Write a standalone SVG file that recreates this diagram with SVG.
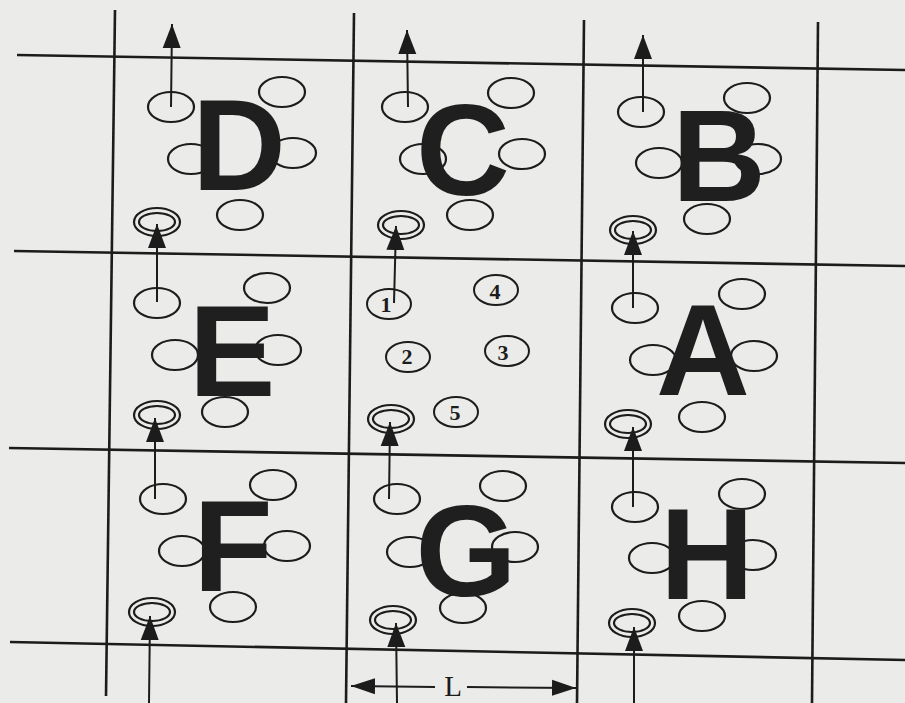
<svg xmlns="http://www.w3.org/2000/svg" width="905" height="703" viewBox="0 0 905 703">
<style>
.grid{stroke:#1c1c1c;stroke-width:2.6;fill:none;stroke-linecap:butt}
.e{fill:none;stroke:#1c1c1c;stroke-width:2.2}
.el{fill:none;stroke:#1c1c1c;stroke-width:2}
.big{font-family:"Liberation Sans",Arial,sans-serif;font-weight:bold;font-size:130px;fill:#1f1f1f;text-anchor:middle}
.num{font-family:"Liberation Serif","Times New Roman",serif;font-weight:bold;font-size:22px;fill:#1c1c1c;text-anchor:middle}
.lab{font-family:"Liberation Serif","Times New Roman",serif;font-size:29px;fill:#1c1c1c;text-anchor:middle}
.arr{stroke:#1c1c1c;stroke-width:2;fill:none;marker-end:url(#ah)}
.dim{stroke:#1c1c1c;stroke-width:2;fill:none}
</style>
<defs>
<marker id="ah" markerUnits="userSpaceOnUse" viewBox="0 -10 26 20" markerWidth="26" markerHeight="20" refX="24" refY="0" orient="auto">
<path d="M0,-9 L24,0 L0,9 Z" fill="#1c1c1c"/>
</marker>
<marker id="dh" markerUnits="userSpaceOnUse" viewBox="0 -10 26 20" markerWidth="26" markerHeight="20" refX="24" refY="0" orient="auto">
<path d="M0,-8 L24,0 L0,8 Z" fill="#1c1c1c"/>
</marker>
</defs>
<rect width="905" height="703" fill="#ebebe9"/>
<g id="grid">
<line class="grid" x1="17" y1="55" x2="905" y2="70"/>
<line class="grid" x1="14" y1="251" x2="905" y2="266"/>
<line class="grid" x1="9" y1="448" x2="905" y2="463"/>
<line class="grid" x1="10" y1="642" x2="905" y2="660"/>
<line class="grid" x1="115" y1="10" x2="106" y2="696"/>
<line class="grid" x1="354" y1="13" x2="346" y2="703"/>
<line class="grid" x1="584" y1="20" x2="577" y2="703"/>
<line class="grid" x1="818" y1="22" x2="812" y2="703"/>
</g>
<g id="cell-D">
<ellipse class="e" cx="171" cy="107" rx="23" ry="15"/>
<ellipse class="e" cx="282" cy="92" rx="23" ry="15"/>
<ellipse class="e" cx="191" cy="159" rx="23" ry="15"/>
<ellipse class="e" cx="293" cy="153" rx="23" ry="15"/>
<ellipse class="e" cx="240" cy="215" rx="23" ry="15"/>
<ellipse class="e" cx="157" cy="222" rx="23" ry="14"/>
<ellipse class="e" cx="157" cy="222" rx="18" ry="9"/>
<text class="big" x="239" y="190">D</text>
</g>
<g id="cell-C">
<ellipse class="e" cx="405" cy="107" rx="23" ry="15"/>
<ellipse class="e" cx="511" cy="93" rx="23" ry="15"/>
<ellipse class="e" cx="423" cy="159" rx="23" ry="15"/>
<ellipse class="e" cx="522" cy="154" rx="23" ry="15"/>
<ellipse class="e" cx="470" cy="215" rx="23" ry="15"/>
<ellipse class="e" cx="401" cy="225" rx="23" ry="14"/>
<ellipse class="e" cx="401" cy="225" rx="18" ry="9"/>
<text class="big" x="463" y="195">C</text>
</g>
<g id="cell-B">
<ellipse class="e" cx="641" cy="112" rx="23" ry="15"/>
<ellipse class="e" cx="747" cy="98" rx="23" ry="15"/>
<ellipse class="e" cx="659" cy="163" rx="23" ry="15"/>
<ellipse class="e" cx="758" cy="159" rx="23" ry="15"/>
<ellipse class="e" cx="707" cy="219" rx="23" ry="15"/>
<ellipse class="e" cx="633" cy="230" rx="23" ry="14"/>
<ellipse class="e" cx="633" cy="230" rx="18" ry="9"/>
<text class="big" x="719" y="201">B</text>
</g>
<g id="cell-E">
<ellipse class="e" cx="157" cy="303" rx="23" ry="15"/>
<ellipse class="e" cx="267" cy="288" rx="23" ry="15"/>
<ellipse class="e" cx="175" cy="355" rx="23" ry="15"/>
<ellipse class="e" cx="278" cy="350" rx="23" ry="15"/>
<ellipse class="e" cx="225" cy="412" rx="23" ry="15"/>
<ellipse class="e" cx="157" cy="415" rx="23" ry="14"/>
<ellipse class="e" cx="157" cy="415" rx="18" ry="9"/>
<text class="big" x="232" y="396">E</text>
</g>
<g id="cell-center">
<ellipse class="el" cx="389" cy="304" rx="22" ry="15"/>
<ellipse class="el" cx="496" cy="290" rx="22" ry="15"/>
<ellipse class="el" cx="408" cy="357" rx="22" ry="15"/>
<ellipse class="el" cx="507" cy="351" rx="22" ry="15"/>
<ellipse class="el" cx="456" cy="412" rx="22" ry="15"/>
<ellipse class="e" cx="391" cy="419" rx="23" ry="14"/>
<ellipse class="e" cx="391" cy="419" rx="18" ry="9"/>
<text class="num" x="386" y="312">1</text>
<text class="num" x="495" y="299">4</text>
<text class="num" x="407" y="364">2</text>
<text class="num" x="503" y="360">3</text>
<text class="num" x="455" y="420">5</text>
</g>
<g id="cell-A">
<ellipse class="e" cx="635" cy="308" rx="23" ry="15"/>
<ellipse class="e" cx="742" cy="294" rx="23" ry="15"/>
<ellipse class="e" cx="653" cy="360" rx="23" ry="15"/>
<ellipse class="e" cx="754" cy="356" rx="23" ry="15"/>
<ellipse class="e" cx="702" cy="417" rx="23" ry="15"/>
<ellipse class="e" cx="628" cy="424" rx="23" ry="14"/>
<ellipse class="e" cx="628" cy="424" rx="18" ry="9"/>
<text class="big" x="703" y="395">A</text>
</g>
<g id="cell-F">
<ellipse class="e" cx="163" cy="499" rx="23" ry="15"/>
<ellipse class="e" cx="273" cy="485" rx="23" ry="15"/>
<ellipse class="e" cx="182" cy="551" rx="23" ry="15"/>
<ellipse class="e" cx="287" cy="546" rx="23" ry="15"/>
<ellipse class="e" cx="233" cy="607" rx="23" ry="15"/>
<ellipse class="e" cx="152" cy="612" rx="23" ry="14"/>
<ellipse class="e" cx="152" cy="612" rx="18" ry="9"/>
<text class="big" x="233" y="591">F</text>
</g>
<g id="cell-G">
<ellipse class="e" cx="397" cy="499" rx="23" ry="15"/>
<ellipse class="e" cx="503" cy="486" rx="23" ry="15"/>
<ellipse class="e" cx="410" cy="552" rx="23" ry="15"/>
<ellipse class="e" cx="515" cy="547" rx="23" ry="15"/>
<ellipse class="e" cx="463" cy="608" rx="23" ry="15"/>
<ellipse class="e" cx="393" cy="620" rx="23" ry="14"/>
<ellipse class="e" cx="393" cy="620" rx="18" ry="9"/>
<text class="big" x="466" y="596">G</text>
</g>
<g id="cell-H">
<ellipse class="e" cx="635" cy="507" rx="23" ry="15"/>
<ellipse class="e" cx="742" cy="494" rx="23" ry="15"/>
<ellipse class="e" cx="652" cy="558" rx="23" ry="15"/>
<ellipse class="e" cx="753" cy="555" rx="23" ry="15"/>
<ellipse class="e" cx="702" cy="616" rx="23" ry="15"/>
<ellipse class="e" cx="632" cy="623" rx="23" ry="14"/>
<ellipse class="e" cx="632" cy="623" rx="18" ry="9"/>
<text class="big" x="707" y="599">H</text>
</g>
<g id="connectors">
<line class="arr" x1="171" y1="107" x2="172" y2="24"/>
<line class="arr" x1="157" y1="302" x2="157" y2="224"/>
<line class="arr" x1="155" y1="499" x2="155" y2="418"/>
<line class="arr" x1="149" y1="703" x2="150" y2="616"/>
<line class="arr" x1="408" y1="107" x2="407" y2="30"/>
<line class="arr" x1="394" y1="303" x2="396" y2="226"/>
<line class="arr" x1="389" y1="499" x2="390" y2="422"/>
<line class="arr" x1="397" y1="703" x2="396" y2="623"/>
<line class="arr" x1="643" y1="112" x2="643" y2="35"/>
<line class="arr" x1="633" y1="308" x2="633" y2="231"/>
<line class="arr" x1="633" y1="507" x2="633" y2="427"/>
<line class="arr" x1="634" y1="703" x2="634" y2="627"/>
</g>
<g id="dimension-L">
<line class="dim" x1="435" y1="687" x2="351" y2="686" marker-end="url(#dh)"/>
<line class="dim" x1="467" y1="687" x2="576" y2="688" marker-end="url(#dh)"/>
<text class="lab" x="453" y="696">L</text>
</g>
</svg>
